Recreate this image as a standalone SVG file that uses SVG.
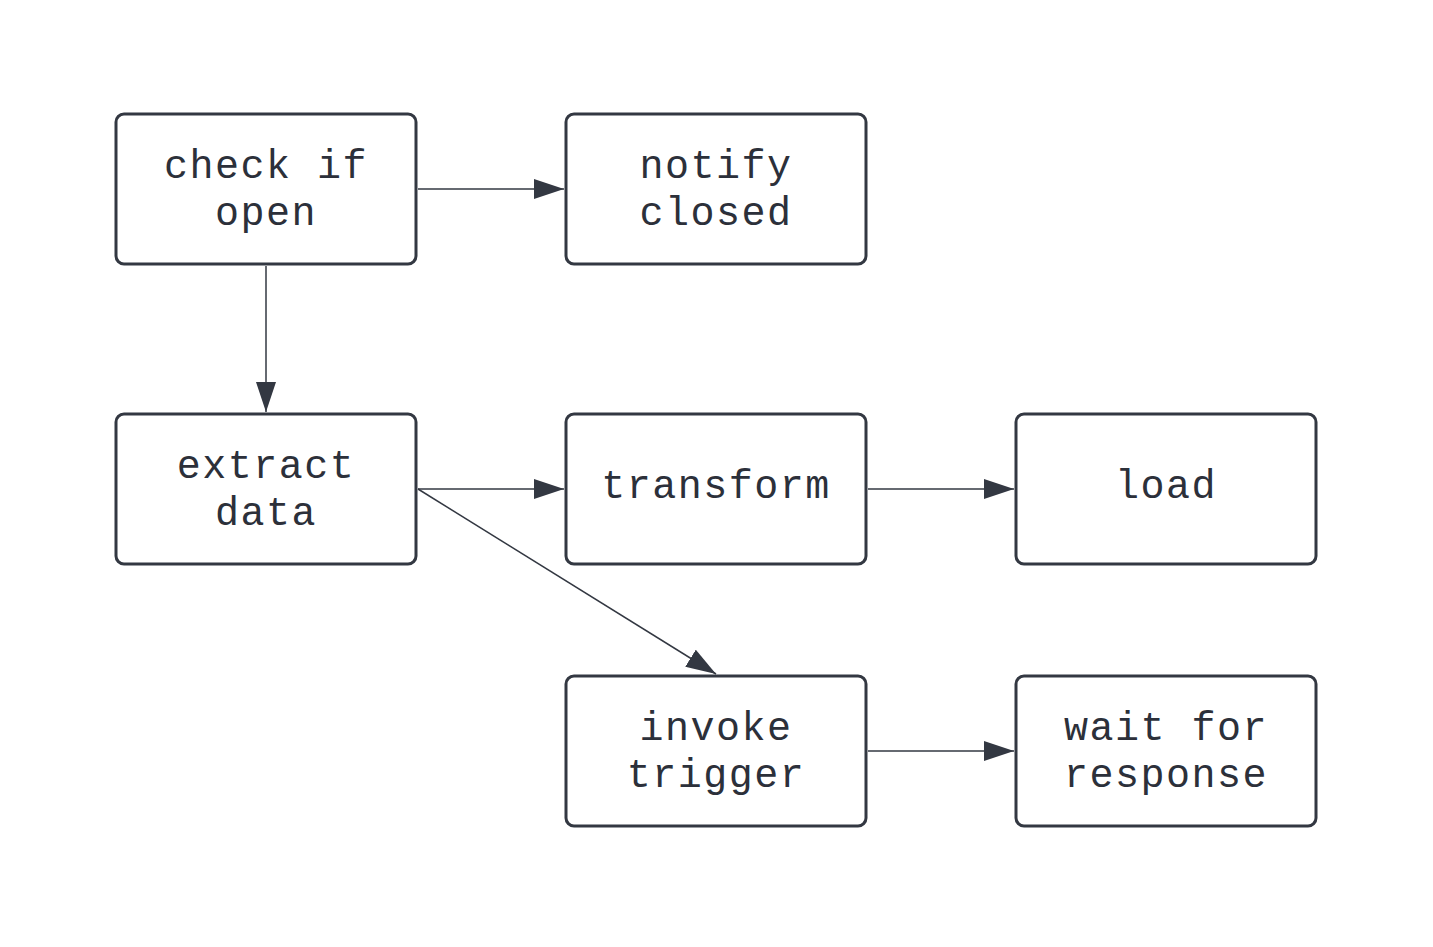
<svg xmlns="http://www.w3.org/2000/svg" width="1433" height="947" viewBox="0 0 1433 947">
<style>
.n rect{fill:#fff;stroke:#333842;stroke-width:3}
.n text{font-family:"Liberation Mono",monospace;font-size:40px;letter-spacing:1.5px;fill:#2c303a;text-anchor:middle}
.c line{stroke:#333842;stroke-width:1.5;marker-end:url(#a)}
</style>
<defs><marker id="a" markerWidth="30" markerHeight="20" refX="30" refY="10" orient="auto" markerUnits="userSpaceOnUse"><path d="M0,0 L30,10 L0,20 Z" fill="#333842"/></marker></defs>
<rect width="1433" height="947" fill="#fff"/>
<g class="c">
<line x1="418" y1="189" x2="564" y2="189"/>
<line x1="266" y1="266" x2="266" y2="412"/>
<line x1="418" y1="489" x2="564" y2="489"/>
<line x1="868" y1="489" x2="1014" y2="489"/>
<line x1="418" y1="489" x2="716" y2="674"/>
<line x1="868" y1="751" x2="1014" y2="751"/>
</g>
<g id="check" class="n"><rect x="116" y="114" width="300" height="150" rx="8"/><text x="266" y="178">check if</text><text x="266" y="225">open</text></g>
<g id="notify" class="n"><rect x="566" y="114" width="300" height="150" rx="8"/><text x="716" y="178">notify</text><text x="716" y="225">closed</text></g>
<g id="extract" class="n"><rect x="116" y="414" width="300" height="150" rx="8"/><text x="266" y="478">extract</text><text x="266" y="525">data</text></g>
<g id="transform" class="n"><rect x="566" y="414" width="300" height="150" rx="8"/><text x="716" y="498">transform</text></g>
<g id="load" class="n"><rect x="1016" y="414" width="300" height="150" rx="8"/><text x="1166" y="498">load</text></g>
<g id="invoke" class="n"><rect x="566" y="676" width="300" height="150" rx="8"/><text x="716" y="740">invoke</text><text x="716" y="787">trigger</text></g>
<g id="wait" class="n"><rect x="1016" y="676" width="300" height="150" rx="8"/><text x="1166" y="740">wait for</text><text x="1166" y="787">response</text></g>
</svg>
